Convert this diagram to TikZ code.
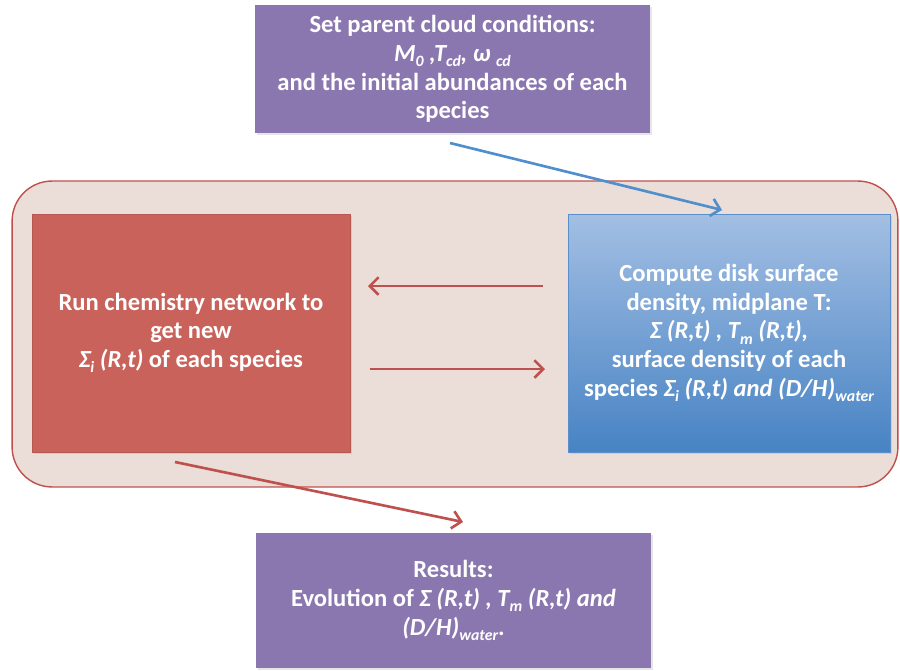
\documentclass[tikz,border=0pt]{standalone}
\usepackage{fontspec}
\setmainfont{Carlito}
\usetikzlibrary{arrows.meta,shadows}
\definecolor{boxPurple}{HTML}{8B77B0}
\definecolor{boxRed}{HTML}{C8625A}
\definecolor{loopFill}{HTML}{EBDDD8}
\definecolor{loopLine}{HTML}{C0504D}
\definecolor{diskTop}{HTML}{A3BFE3}
\definecolor{diskBottom}{HTML}{4783C4}
\definecolor{diskLine}{HTML}{5B8FCC}
\definecolor{arrowBlue}{HTML}{4F8FCB}
\newcommand{\lowidx}[1]{\raisebox{-0.45ex}{\small #1}}
\tikzstyle{boxText}=[text = white, align = center, font = \bfseries\fontsize{14}{16.3}\selectfont, inner sep = 3pt]
\tikzstyle{purpleBox}=[boxText, shape = rectangle, fill = boxPurple, minimum width = 7.9cm, drop shadow = {opacity = 0.2, shadow xshift = 1pt, shadow yshift = -1pt}]
\tikzstyle{redArrow}=[draw = loopLine, line width = 1.5pt, -{Straight Barb[length = 5pt, width = 10pt]}]

\begin{document}
\begin{tikzpicture}[x = 0.02cm, y = -0.02cm]
\useasboundingbox (0,0) rectangle (900,670);
\tikzstyle{loopStyle}=[shape = rectangle, rounded corners = 0.8cm, draw = loopLine, line width = 0.8pt, fill = loopFill]
\tikzstyle{chemStyle}=[boxText, shape = rectangle, fill = boxRed, draw = boxRed!90!black, minimum width = 6.36cm, minimum height = 4.76cm, drop shadow = {opacity = 0.2, shadow xshift = 1pt, shadow yshift = -1pt}]
\tikzstyle{diskStyle}=[boxText, shape = rectangle, top color = diskTop, bottom color = diskBottom, draw = diskLine, minimum width = 6.44cm, minimum height = 4.76cm, drop shadow = {opacity = 0.2, shadow xshift = 1pt, shadow yshift = -1pt}]
% loop background
\node[loopStyle, minimum width = 17.72cm, minimum height = 6.12cm] (loop) at (455,334) {};
% boxes
\node[purpleBox, minimum height = 2.56cm] (parent) at (452.5,69) {Set parent cloud conditions:\\ \textit{M\lowidx{0} ,T\lowidx{cd}, ω \lowidx{cd}}\\ and the initial abundances of each\\ species};
\node[chemStyle] (chem) at (191,333) {Run chemistry network to\\ get new\\ \textit{Σ\lowidx{i} (R,t)} of each species};
\node[diskStyle] (disk) at (729,333) {Compute disk surface\\ density, midplane T:\\ \textit{Σ (R,t) , T\lowidx{m} (R,t),}\\ surface density of each\\ species \textit{Σ\lowidx{i} (R,t) and (D/H)\lowidx{water}}};
\node[purpleBox, minimum height = 2.7cm] (results) at (453.5,600.5) {Results:\\ Evolution of \textit{Σ (R,t) , T\lowidx{m} (R,t) and}\\ \textit{(D/H)\lowidx{water}}.};
% arrow ends
\coordinate (parentOut) at (450,143);
\coordinate (diskIn) at (722,210);
\coordinate (diskOut) at (543,286);
\coordinate (chemIn) at (368,286);
\coordinate (chemOut) at (370,369);
\coordinate (diskBack) at (545,369);
\coordinate (loopOut) at (175,462);
\coordinate (resultsIn) at (463,522);
\draw[draw = arrowBlue, line width = 1.5pt, -{Straight Barb[length = 5pt, width = 10pt]}] (parentOut) -- (diskIn);
\draw[redArrow] (diskOut) -- (chemIn);
\draw[redArrow] (chemOut) -- (diskBack);
\draw[redArrow] (loopOut) -- (resultsIn);
\end{tikzpicture}
\end{document}
